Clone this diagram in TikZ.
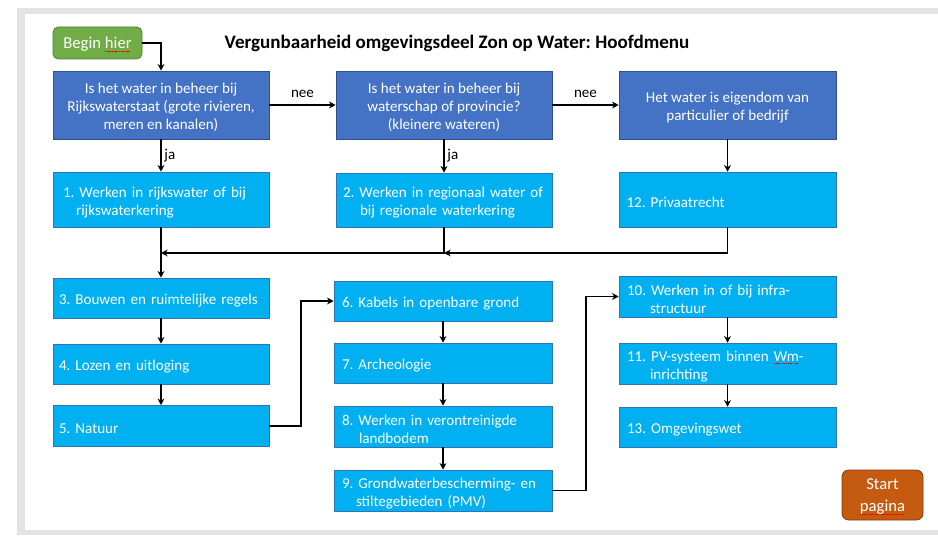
\documentclass[tikz,border=0pt]{standalone}
\usepackage{fontspec}
\setmainfont{Carlito}
\usetikzlibrary{arrows.meta}
\definecolor{dblue}{RGB}{68,114,196}
\definecolor{dborder}{RGB}{47,82,143}
\definecolor{lblue}{RGB}{0,176,240}
\definecolor{lborder}{RGB}{46,117,182}
\definecolor{gfill}{RGB}{112,173,71}
\definecolor{gborder}{RGB}{80,126,50}
\definecolor{ofill}{RGB}{197,90,17}
\definecolor{oborder}{RGB}{132,60,12}
\definecolor{frame}{RGB}{227,227,227}
\newcommand{\redsq}[1]{{\setbox0\hbox{#1}\rlap{\hbox to \wd0{\color{red}\leaders\hbox{\rule[-2.2pt]{0.9pt}{0.5pt}\hspace{0.4pt}}\hfill}}\box0}}
\frenchspacing
\begin{document}
\begin{tikzpicture}[x=0.75pt,y=-0.75pt,
  font=\fontsize{11.3}{13.5}\selectfont,
  sz/.style 2 args={minimum width=#1*0.75pt, minimum height=#2*0.75pt},
  qbox/.style={fill=dblue, draw=dborder, line width=0.4pt, inner sep=0pt},
  qtext/.style={text=white, align=center, inner sep=0pt},
  lbox/.style={fill=lblue, draw=lborder, line width=0.4pt, inner sep=0pt},
  ltext/.style={text=white, align=left, inner sep=0pt, text width=#1*0.75pt},
  ltext/.default=202,
  conn/.style={draw=black, line width=1.2pt, -{Stealth[length=5pt,width=5pt]}},
  lab/.style={text=black, inner sep=2pt},
  dn/.style={yshift=-2pt}
]
\useasboundingbox (0,0) rectangle (938,535);
\fill[white] (0,0) rectangle (938,535);
\fill[frame] (17,8) rectangle (938,535);
\fill[white] (25,14) rectangle (938,530);

\node[font=\fontsize{14.3}{16}\selectfont\bfseries] (title) at (457,43) {Vergunbaarheid omgevingsdeel Zon op Water: Hoofdmenu};

\node[fill=gfill, draw=gborder, line width=0.6pt, rounded corners=4pt, sz={89}{32}] (begin) at (97.5,43) {};
\node[text=white, inner sep=0pt, font=\fontsize{12.5}{14}\selectfont] (begint) at ([yshift=-1pt]begin.center) {Begin \redsq{hier}};

\node[qbox, sz={216}{68}] (q1) at (161,105) {};
\node[qtext] (q1t) at ([dn]q1.center) {Is het water in beheer bij\\Rijkswaterstaat (grote rivieren,\\meren en kanalen)};
\node[qbox, sz={216}{68}] (q2) at (444,105) {};
\node[qtext] (q2t) at ([dn]q2.center) {Is het water in beheer bij\\waterschap of provincie?\\(kleinere wateren)};
\node[qbox, sz={217}{68}] (q3) at (727.5,105) {};
\node[qtext] (q3t) at ([dn]q3.center) {Het water is eigendom van\\particulier of bedrijf};

\node[lbox, sz={216}{55}] (b1) at (161,199.5) {};
\node[ltext] (b1t) at ([dn]b1.center) {\hspace*{2.25pt}1. Werken in rijkswater of bij\\\hspace*{12pt}rijkswaterkering};
\node[lbox, sz={216}{54}] (b2) at (444,200) {};
\node[ltext] (b2t) at ([dn]b2.center) {2. Werken in regionaal water of\\\hspace*{12.75pt}bij regionale waterkering};
\node[lbox, sz={217}{55}] (b12) at (727.5,199.5) {};
\node[ltext] (b12t) at ([dn]b12.center) {12. Privaatrecht};

\node[lbox, sz={216}{40}] (b3) at (161,298) {};
\node[ltext={204}] (b3t) at ([dn]b3.center) {3. Bouwen en ruimtelijke regels};
\node[lbox, sz={216}{40}] (b4) at (161,364) {};
\node[ltext={204}] (b4t) at ([dn]b4.center) {4. Lozen en uitloging};
\node[lbox, sz={216}{41}] (b5) at (161,426) {};
\node[ltext={204}] (b5t) at ([dn]b5.center) {5. Natuur};

\node[lbox, sz={218}{40}] (b6) at (443,301) {};
\node[ltext] (b6t) at ([dn]b6.center) {6. Kabels in openbare grond};
\node[lbox, sz={218}{40}] (b7) at (443,363) {};
\node[ltext] (b7t) at ([dn]b7.center) {7. Archeologie};
\node[lbox, sz={218}{41}] (b8) at (443,426.5) {};
\node[ltext] (b8t) at ([dn]b8.center) {8. Werken in verontreinigde\\\hspace*{12.75pt}landbodem};
\node[lbox, sz={218}{41}] (b9) at (443,490.5) {};
\node[ltext] (b9t) at ([dn]b9.center) {9. Grondwaterbescherming- en\\\hspace*{10.5pt}stiltegebieden (PMV)};

\node[lbox, sz={217}{41}] (b10) at (727.5,296.5) {};
\node[ltext={201}] (b10t) at ([dn]b10.center) {10. Werken in of bij infra-\\\hspace*{17.25pt}structuur};
\node[lbox, sz={217}{41}] (b11) at (727.5,363.5) {};
\node[ltext={201}] (b11t) at ([dn]b11.center) {11. PV-systeem binnen \redsq{Wm}-\\\hspace*{17.25pt}inrichting};
\node[lbox, sz={217}{40}] (b13) at (727.5,427) {};
\node[ltext={201}] (b13t) at ([dn]b13.center) {13. Omgevingswet};

\node[fill=ofill, draw=oborder, line width=0.6pt, rounded corners=5pt, sz={81}{50}] (start) at (882.5,495) {};
\node[text=white, align=center, inner sep=0pt, font=\fontsize{12.5}{16.5}\selectfont] (startt) at ([yshift=-1pt]start.center) {Start\\\redsq{pagina}};

\coordinate (j1) at (161,253);
\coordinate (j2) at (444,253);
\coordinate (k1) at (301,426);
\coordinate (k2) at (586,490.5);

\draw[conn] (begin.east) -| (q1.north);
\draw[conn] (q1) -- node[lab, above, yshift=3pt]{nee} (q2);
\draw[conn] (q2) -- node[lab, above, yshift=3pt]{nee} (q3);
\draw[conn] (q1) -- node[lab, right]{ja} (b1);
\draw[conn] (q2) -- node[lab, right]{ja} (b2);
\draw[conn] (q3) -- (b12);
\draw[conn] (b12.south) |- (j2);
\draw[conn] (b2.south) |- (j1);
\draw[conn] (b1.south) -- (b3.north);
\draw[conn] (b3) -- (b4);
\draw[conn] (b4) -- (b5);
\draw[conn] (b5.east) -- (k1) |- (b6.west);
\draw[conn] (b6) -- (b7);
\draw[conn] (b7) -- (b8);
\draw[conn] (b8) -- (b9);
\draw[conn] (b9.east) -- (k2) |- (b10.west);
\draw[conn] (b10) -- (b11);
\draw[conn] (b11) -- (b13);
\end{tikzpicture}
\end{document}
